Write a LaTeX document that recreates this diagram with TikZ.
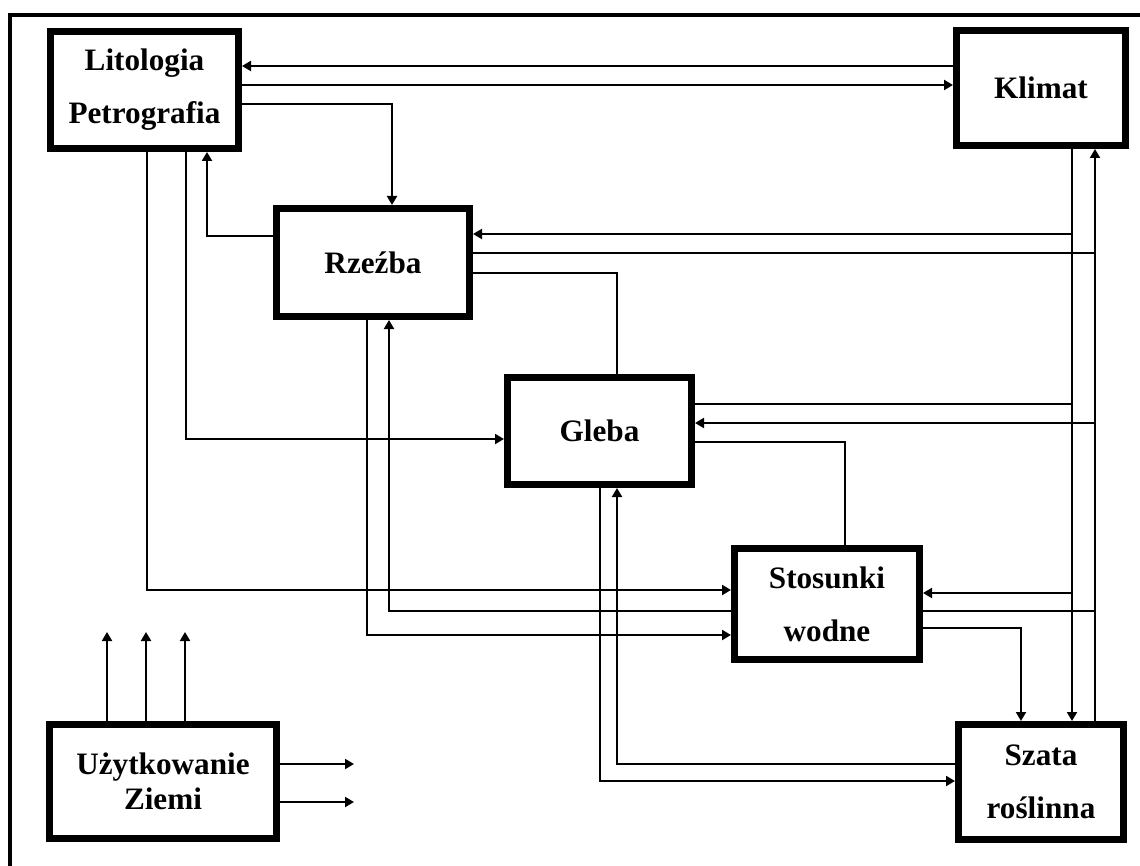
\documentclass[tikz,border=0pt]{standalone}
\usepackage{fontspec}
\setmainfont{Liberation Serif}
\usetikzlibrary{arrows.meta}
\begin{document}
\begin{tikzpicture}[x=0.5pt,y=-0.5pt,
  box/.style={draw, line width=3.5pt, font=\bfseries\fontsize{15.6}{26.5}\selectfont, align=center, inner sep=0pt},
  con/.style={line width=1pt},
  arr/.style={con, -{Triangle[length=4.5pt,width=5pt]}}]
\useasboundingbox (0,0) rectangle (1140,866);
\fill[white] (0,0) rectangle (1140,866);
\draw[line width=2pt] (1140,15) -- (9.5,15) -- (9.5,866);

\node[box, minimum width=94pt, minimum height=58.5pt] (lit) at (144.5,90) {Litologia\\Petrografia};
\node[box, minimum width=84.5pt, minimum height=57.5pt] (kli) at (1041,88) {Klimat};
\node[box, minimum width=96.5pt, minimum height=54pt] (rze) at (373,262.5) {Rzeźba};
\node[box, minimum width=92pt, minimum height=53.5pt] (gle) at (599.5,431) {Gleba};
\node[box, minimum width=92.5pt, minimum height=55.5pt] (sto) at (827,604) {Stosunki\\wodne};
\node[box, minimum width=82.5pt, minimum height=57.5pt] (sza) at (1041,782) {Szata\\roślinna};
\node[box, minimum width=113.5pt, minimum height=57pt, font=\bfseries\fontsize{15.6}{17.5}\selectfont] (uzy) at (163,781.5) {Użytkowanie\\Ziemi};

% junctions on the two vertical trunks
\coordinate (a234) at (1072,234);
\coordinate (a404) at (1072,404);
\coordinate (a593) at (1072,593);
\coordinate (b253) at (1095,253);
\coordinate (b423) at (1095,423);
\coordinate (b611) at (1095,611);
% free ends of the land-use arrows
\coordinate (u1) at (107,632);
\coordinate (u2) at (146,632);
\coordinate (u3) at (185,632);
\coordinate (u4) at (354,764);
\coordinate (u5) at (354,802);

% Litologia <-> Klimat
\draw[arr] (kli.west |- 0,66) -- (lit.east |- 0,66);
\draw[arr] (lit.east |- 0,85) -- (kli.west |- 0,85);
% Litologia <-> Rzezba
\draw[arr] (lit.east |- 0,104) -| (rze.north -| 392,0);
\draw[arr] (rze.west |- 0,236) -| (lit.south -| 207,0);
% Litologia -> Gleba, Stosunki
\draw[arr] (lit.south -| 186,0) |- (gle.west |- 0,439);
\draw[arr] (lit.south -| 147,0) |- (sto.west |- 0,590);

% Klimat trunk down
\draw[arr] (kli.south -| 1072,0) -- (sza.north -| 1072,0);
\draw[arr] (a234) -- (rze.east |- a234);
\draw[con] (a404) -- (gle.east |- a404);
\draw[arr] (a593) -- (sto.east |- a593);
% trunk up to Klimat
\draw[arr] (sza.north -| 1095,0) -- (kli.south -| 1095,0);
\draw[con] (rze.east |- b253) -- (b253);
\draw[arr] (b423) -- (gle.east |- b423);
\draw[con] (sto.east |- b611) -- (b611);

% Rzezba - Gleba, Gleba - Stosunki
\draw[con] (rze.east |- 0,273) -| (gle.north -| 617,0);
\draw[con] (gle.east |- 0,442) -| (sto.north -| 845,0);
% Rzezba <-> Stosunki
\draw[arr] (rze.south -| 367,0) |- (sto.west |- 0,635);
\draw[arr] (sto.west |- 0,611) -| (rze.south -| 389,0);
% Stosunki -> Szata
\draw[arr] (sto.east |- 0,628) -| (sza.north -| 1021,0);
% Gleba <-> Szata
\draw[arr] (gle.south -| 600,0) |- (sza.west |- 0,781);
\draw[arr] (sza.west |- 0,764) -| (gle.south -| 617,0);

% Uzytkowanie Ziemi
\draw[arr] (uzy.north -| u1) -- (u1);
\draw[arr] (uzy.north -| u2) -- (u2);
\draw[arr] (uzy.north -| u3) -- (u3);
\draw[arr] (uzy.east |- u4) -- (u4);
\draw[arr] (uzy.east |- u5) -- (u5);
\end{tikzpicture}
\end{document}
